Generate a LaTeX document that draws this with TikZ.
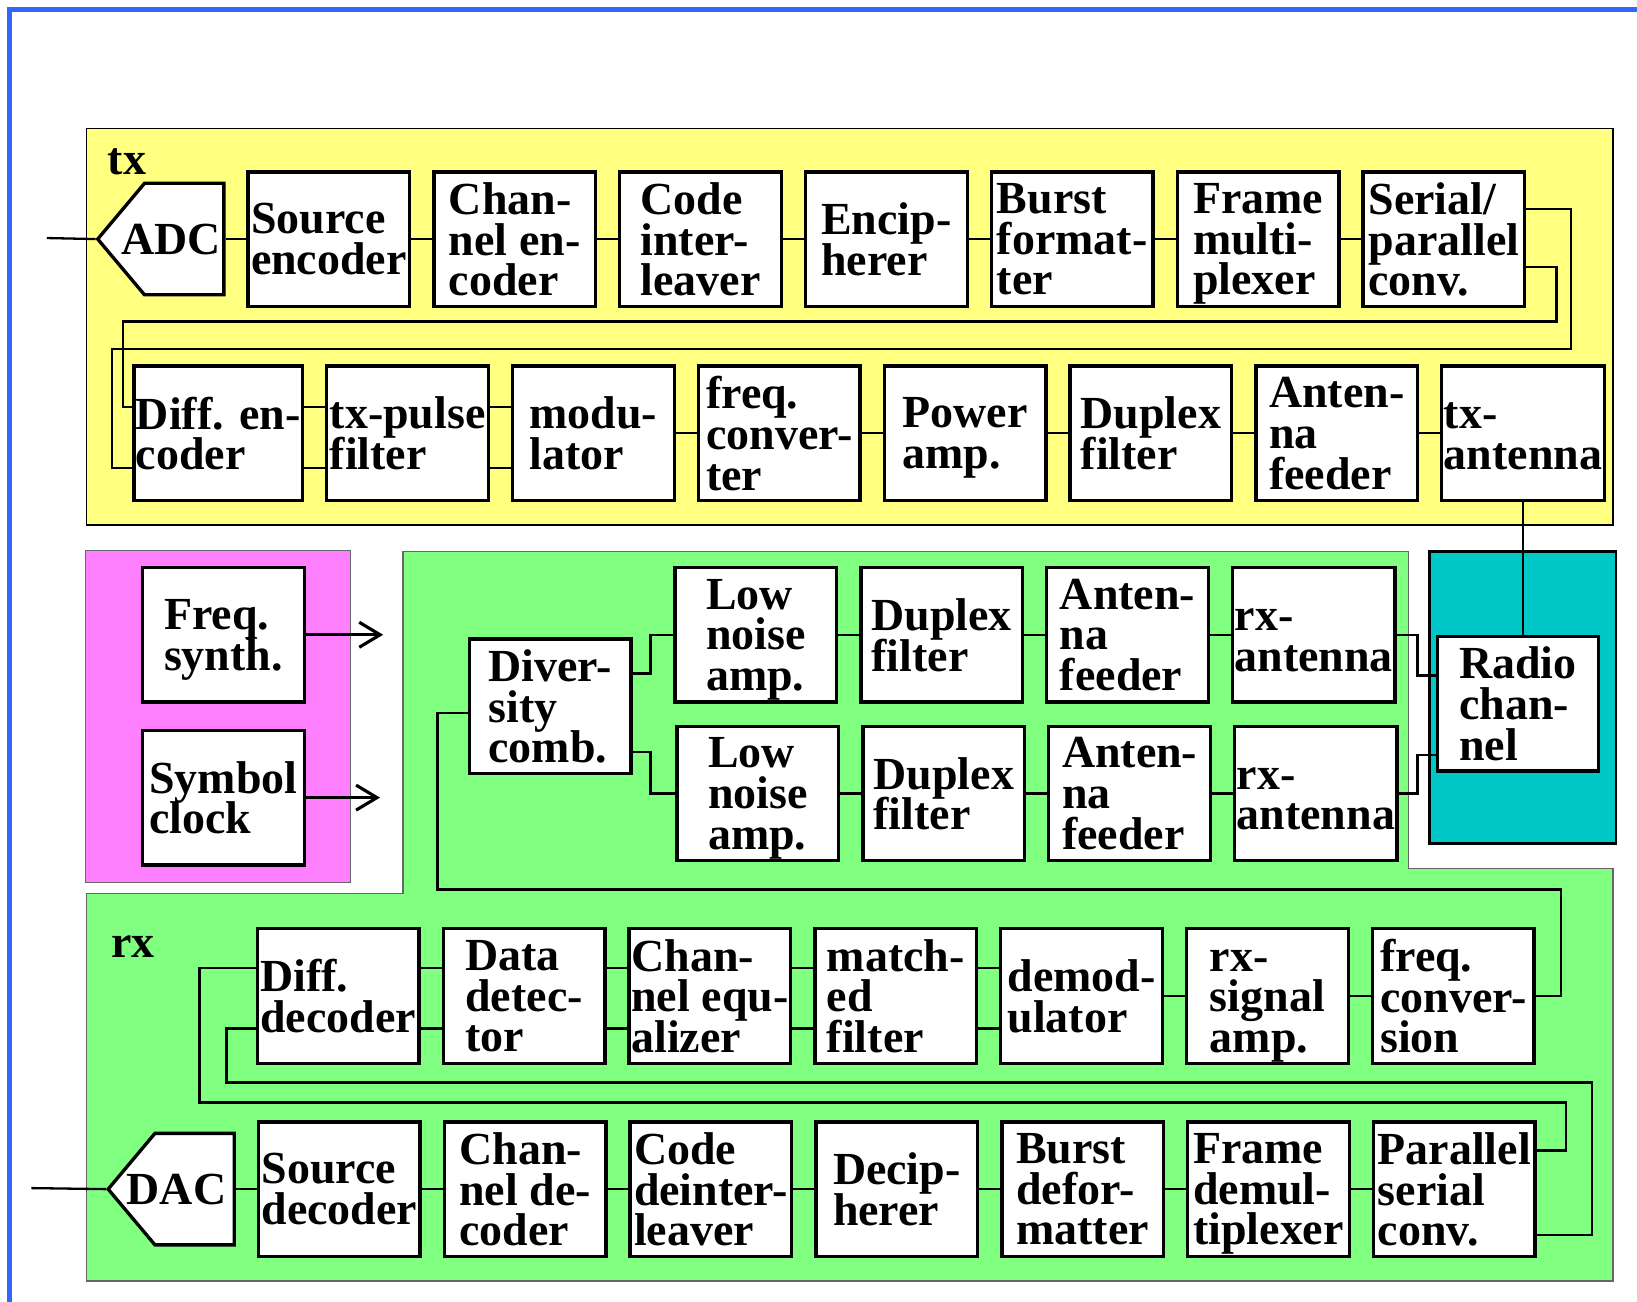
\documentclass[tikz,border=0pt]{standalone}
\usepackage{fontspec}
\setmainfont{Liberation Serif}
\usepackage{tikz}
\usetikzlibrary{arrows.meta,positioning,shapes.symbols,calc}
\definecolor{txYellow}{RGB}{255,255,128}
\definecolor{synthPink}{RGB}{255,128,255}
\definecolor{rxGreen}{RGB}{128,255,128}
\definecolor{chanTeal}{RGB}{0,200,200}
\definecolor{frameBlue}{RGB}{51,102,255}
\newcommand{\blkfont}{\fontsize{22}{19.5}\selectfont\bfseries\lineskiplimit=-30pt}
\tikzset{
  blk/.style={rectangle, draw, line width=1.6pt, fill=white,
              minimum width=77.4pt, minimum height=64.4pt,
              inner xsep=1pt, inner ysep=0pt, text depth=0pt,
              align=left, font=\blkfont},
  conv/.style={signal, signal to=west, signal pointer angle=100,
               draw, line width=1.6pt, fill=white,
               minimum width=60.4pt, minimum height=53.4pt, inner sep=0pt},
  convlbl/.style={inner sep=0pt, font=\blkfont},
  wire/.style={line width=1.1pt},
  clk/.style={line width=1.3pt, -{Straight Barb[length=10pt, width=12pt, line width=1.5pt]}},
  tag/.style={anchor=base west, inner sep=0pt, font=\blkfont},
}

\begin{document}
\begin{tikzpicture}[x=0.5pt, y=-0.5pt, node distance=10pt]
  \useasboundingbox (0,0) rectangle (1568,1247);
  \draw[frameBlue, line width=2.4pt] (9,1247) -- (9,9) -- (1568,9);

  % regions
  \filldraw[fill=txYellow, draw=black, line width=0.8pt] (83,123) rectangle (1545,503);
  \filldraw[fill=synthPink, draw=black!60, line width=0.6pt] (82,527) rectangle (336,845);
  \filldraw[fill=rxGreen, draw=black!60, line width=0.6pt]
    (386,528) -- (1349,528) -- (1349,832) -- (1545,832) -- (1545,1227)
    -- (83,1227) -- (83,856) -- (386,856) -- cycle;
  \filldraw[fill=chanTeal, draw=black, line width=1.3pt] (1369,528) rectangle (1548,808);

  \node[tag] (txlbl) at (103,167) {tx};
  \node[tag] (rxlbl) at (106,917) {rx};

  % transmitter
  \node[blk] (srcenc) at (315,229) {Source\\encoder};
  \node[conv, left=of srcenc] (adc) {};
  \node[convlbl] (adctxt) at ([xshift=-26pt]adc.east) {ADC};
  \node[blk, right=of srcenc] (chenc) {Chan-\\nel en-\\coder};
  \node[blk, right=of chenc] (ilv) {Code\\inter-\\leaver};
  \node[blk, right=of ilv] (encr) {Encip-\\herer};
  \node[blk, right=of encr] (bfmt) {Burst\\format-\\ter};
  \node[blk, right=of bfmt] (fmux) {Frame\\multi-\\plexer};
  \node[blk, right=of fmux] (sp) {Serial/\\parallel\\conv.};

  \node[blk] (dfenc) at (209,415) {Diff. en-\\coder};
  \node[blk, right=of dfenc] (pulse) {tx-pulse\\filter};
  \node[blk, right=of pulse] (mod) {modu-\\lator};
  \node[blk, right=of mod] (upconv) {freq.\\conver-\\ter};
  \node[blk, right=of upconv] (pa) {Power\\amp.};
  \node[blk, right=of pa] (txdup) {Duplex\\filter};
  \node[blk, right=of txdup] (txfeed) {Anten-\\na\\feeder};
  \node[blk, right=of txfeed] (txant) {\vphantom{l}tx-\\antenna};

  % synthesis
  \node[blk] (synth) at (214,608) {Freq.\\synth.};
  \node[blk] (clock) at (214,764) {Symbol\\clock};
  \coordinate[right=37pt of synth] (synthout);
  \coordinate[right=35.5pt of clock] (clockout);

  % channel
  \node[blk] (chan) at (1454,674) {Radio\\chan-\\nel};

  % receiver front end
  \node[blk] (div) at (527,676.5) {Diver-\\sity\\comb.};
  \node[blk] (lna1) at (724,608) {Low\\noise\\amp.};
  \node[blk, right=of lna1] (rxdup1) {Duplex\\filter};
  \node[blk, right=of rxdup1] (rxfeed1) {Anten-\\na\\feeder};
  \node[blk, right=of rxfeed1] (rxant1) {\vphantom{l}rx-\\antenna};
  \node[blk] (lna2) at (726,760) {Low\\noise\\amp.};
  \node[blk, right=of lna2] (rxdup2) {Duplex\\filter};
  \node[blk, right=of rxdup2] (rxfeed2) {Anten-\\na\\feeder};
  \node[blk, right=of rxfeed2] (rxant2) {\vphantom{l}rx-\\antenna};

  % receiver
  \node[blk] (dfdec) at (324,954) {Diff.\\decoder};
  \node[blk, right=of dfdec] (detect) {Data\\detec-\\tor};
  \node[blk, right=of detect] (equal) {Chan-\\nel equ-\\alizer};
  \node[blk, right=of equal] (mf) {match-\\ed\\filter};
  \node[blk, right=of mf] (demod) {demod-\\ulator};
  \node[blk, right=of demod] (rxamp) {\vphantom{l}rx-\\signal\\amp.};
  \node[blk, right=of rxamp] (downconv) {freq.\\conver-\\sion};

  \node[blk] (srcdec) at (325,1139) {Source\\decoder};
  \node[conv, left=of srcdec] (dac) {};
  \node[convlbl] (dactxt) at ([xshift=-28.5pt]dac.east) {DAC};
  \node[blk, right=of srcdec] (chdec) {Chan-\\nel de-\\coder};
  \node[blk, right=of chdec] (dilv) {Code\\deinter-\\leaver};
  \node[blk, right=of dilv] (decr) {Decip-\\herer};
  \node[blk, right=of decr] (bdfmt) {Burst\\defor-\\matter};
  \node[blk, right=of bdfmt] (fdmux) {Frame\\demul-\\tiplexer};
  \node[blk, right=of fdmux] (ps) {Parallel\\serial\\conv.};

  \coordinate (adcin) at (45,228);
  \coordinate (dacout) at (30,1138);

  % wires
  \draw[wire] (adcin) -- (adc.west);
  \draw[wire] (dac.west) -- (dacout);
  \foreach \a/\b in {adc/srcenc, srcenc/chenc, chenc/ilv, ilv/encr, encr/bfmt,
                     bfmt/fmux, fmux/sp, mod/upconv, upconv/pa, pa/txdup,
                     txdup/txfeed, txfeed/txant, lna1/rxdup1, rxdup1/rxfeed1,
                     rxfeed1/rxant1, lna2/rxdup2, rxdup2/rxfeed2, rxfeed2/rxant2,
                     demod/rxamp, rxamp/downconv, dac/srcdec, srcdec/chdec,
                     chdec/dilv, dilv/decr, decr/bdfmt, bdfmt/fdmux, fdmux/ps}
    \draw[wire] (\a.east) -- (\b.west);
  \foreach \a/\b in {dfenc/pulse, pulse/mod} {
    \draw[wire] ([yshift=12.5pt]\a.east) -- ([yshift=12.5pt]\b.west);
    \draw[wire] ([yshift=-16.5pt]\a.east) -- ([yshift=-16.5pt]\b.west);
  }
  \foreach \a/\b in {dfdec/detect, detect/equal, equal/mf, mf/demod} {
    \draw[wire] ([yshift=13.5pt]\a.east) -- ([yshift=13.5pt]\b.west);
    \draw[wire] ([yshift=-15.5pt]\a.east) -- ([yshift=-15.5pt]\b.west);
  }

  \draw[wire] ([yshift=14.5pt]sp.east) -| (1505,334) -- (107,334)
    |- ([yshift=-16.5pt]dfenc.west);
  \draw[wire] ([yshift=-13.5pt]sp.east) -| (1491,308) -- (118,308)
    |- ([yshift=12.5pt]dfenc.west);

  \draw[wire] (txant.south) -- (txant.south |- chan.north);
  \draw[wire] (rxant1.east) -- ++(20,0) |- ([yshift=13.5pt]chan.west);
  \draw[wire] (rxant2.east) -- ++(18,0) |- ([yshift=-24.5pt]chan.west);

  \draw[wire] ([yshift=15.75pt]div.east) -- ++(17,0) |- (lna1.west);
  \draw[wire] ([yshift=-21.75pt]div.east) -- ++(17,0) |- (lna2.west);
  \draw[wire] (downconv.east) -- ++(24,0) |- (419,852)
    |- ([yshift=-3.25pt]div.west);

  \draw[wire] ([yshift=13.5pt]dfdec.west) -- ++(-54,0) |- (1500,1056)
    |- ([yshift=18.5pt]ps.east);
  \draw[wire] ([yshift=-15.5pt]dfdec.west) -- ++(-28,0) |- (1525,1037)
    |- ([yshift=-22pt]ps.east);

  \draw[clk] (synth.east) -- (synthout);
  \draw[clk] (clock.east) -- (clockout);
\end{tikzpicture}
\end{document}
